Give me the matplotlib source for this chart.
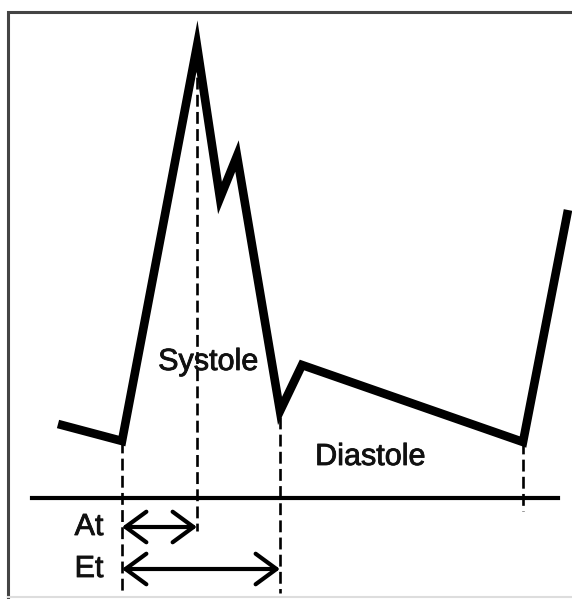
import matplotlib.pyplot as plt
import matplotlib.patheffects as pe

# Daten (Pixel-Skala des Diagramms: x nach rechts, y nach unten)
wave_t = [58, 122, 197, 220, 237, 280, 302, 523, 568]
wave_p = [424, 441, 46, 198, 156, 411, 365, 442, 210]

baseline_y = 498
baseline_x = [32, 558]

# vertikale Markierungen: x, y oben, y unten
mark_x = [122, 197, 280, 523]
mark_top = [441, 60, 417, 442]
mark_bottom = [593, 531, 593, 511]

# Zeitintervalle: Name, Start, Ende, Höhe
interval_names = ["At", "Et"]
interval_start = [122, 122]
interval_end = [197, 280]
interval_y = [527, 569]

phase_names = ["Systole", "Diastole"]
phase_x = [208, 370]
phase_y = [362, 457]

fig = plt.figure(figsize=(5.72, 5.99), dpi=100)
ax = fig.add_axes([0, 0, 1, 1])
ax.set_xlim(0, 572)
ax.set_ylim(599, 0)
ax.axis("off")

# Rahmen
ax.plot([8, 8, 572], [599, 12, 12], color="#444444", lw=2.2,
        solid_joinstyle="miter")
ax.plot([8, 572], [597, 597], color="#dddddd", lw=1.5)

# Kurve
ax.plot(wave_t, wave_p, color="black", lw=6.2, solid_joinstyle="miter",
        solid_capstyle="butt")

# Grundlinie
ax.plot(baseline_x, [baseline_y, baseline_y], color="black", lw=3)

# gestrichelte Linien
for x, y0, y1 in zip(mark_x, mark_top, mark_bottom):
    ax.plot([x, x], [y0, y1], color="black", lw=1.9, linestyle=(0, (4.5, 2)))

txt_fx = [pe.withStroke(linewidth=0.6, foreground="#111111")]

# Pfeile
for name, x0, x1, y in zip(interval_names, interval_start, interval_end, interval_y):
    ax.annotate("", xy=(x1, y), xytext=(x0, y),
                arrowprops=dict(arrowstyle="<->,head_length=0.75,head_width=0.55",
                                color="black", lw=3, mutation_scale=20,
                                shrinkA=0, shrinkB=0))
    ax.text(89, y, name, fontsize=22, family="Liberation Sans", color="#111111",
            ha="center", va="center", path_effects=txt_fx)

for name, x, y in zip(phase_names, phase_x, phase_y):
    ax.text(x, y, name, fontsize=22, family="Liberation Sans", color="#111111",
            ha="center", va="center", path_effects=txt_fx)

plt.savefig("out.png", dpi=100)
